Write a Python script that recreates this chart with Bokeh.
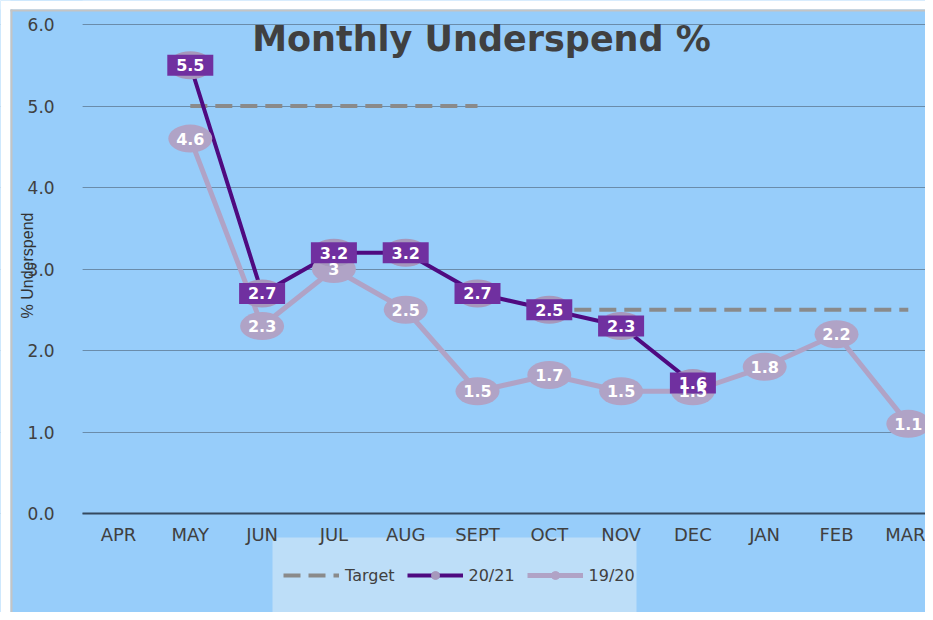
from bokeh.plotting import figure
from bokeh.models import (Range1d, FixedTicker, NumeralTickFormatter, Label,
                          Legend, LegendItem, ColumnDataSource, BoxAnnotation)
from bokeh.core.properties import value
from bokeh.embed import file_html
from bokeh.resources import INLINE

months = ["APR", "MAY", "JUN", "JUL", "AUG", "SEPT", "OCT", "NOV", "DEC", "JAN", "FEB", "MAR"]

# 20/21 series: MAY..DEC
fy2021_idx = [1, 2, 3, 4, 5, 6, 7, 8]
fy2021_vals = [5.5, 2.7, 3.2, 3.2, 2.7, 2.5, 2.3, 1.6]
fy2021_lbls = ["5.5", "2.7", "3.2", "3.2", "2.7", "2.5", "2.3", "1.6"]

# 19/20 series: MAY..MAR
fy1920_idx = [1, 2, 3, 4, 5, 6, 7, 8, 9, 10, 11]
fy1920_vals = [4.6, 2.3, 3.0, 2.5, 1.5, 1.7, 1.5, 1.5, 1.8, 2.2, 1.1]
fy1920_lbls = ["4.6", "2.3", "3", "2.5", "1.5", "1.7", "1.5", "1.5", "1.8", "2.2", "1.1"]

# Target: 5.0 for MAY..SEPT, 2.5 for OCT..MAR
target_a_idx = [1, 2, 3, 4, 5]
target_a_vals = [5.0, 5.0, 5.0, 5.0, 5.0]
target_b_idx = [6, 7, 8, 9, 10, 11]
target_b_vals = [2.5, 2.5, 2.5, 2.5, 2.5, 2.5]

y_ticks = [0, 1, 2, 3, 4, 5, 6]

BG = "#97CDFA"
LEG_BG = "#BDDEF8"
DARK = "#404040"
PURPLE_LINE = "#4F0A80"
PURPLE_BOX = "#7030A0"
LAV = "#B0A3C6"
LAV2 = "#A698BC"
TARGET = "#8A8A8A"

W, H = 925, 612
# layout: category 0 centre at 118px, 71.8 px per category; value 0 at 513px, 81.5 px per unit
X0, XS, Y0, YS = 118.0, 71.8, 513.0, 81.5


def px_x(px):
    return (px - X0) / XS


def px_y(py):
    return (Y0 - py) / YS


p = figure(width=W, height=H, output_backend="svg", toolbar_location=None,
           x_range=Range1d(px_x(0), px_x(W)), y_range=Range1d(px_y(H), px_y(0)),
           min_border=0)
p.background_fill_color = BG
p.border_fill_color = BG
p.outline_line_color = None

# cover grid lines left of the plotting area
p.add_layout(BoxAnnotation(right=-0.5, fill_color=BG, fill_alpha=1,
                           line_color=None, level="underlay"))
# legend panel (below the axis labels)
p.add_layout(BoxAnnotation(left=px_x(272), right=px_x(636), top=px_y(537),
                           bottom=px_y(613), fill_color=LEG_BG, fill_alpha=1,
                           line_color=None, level="underlay"))

# axes
p.xaxis.fixed_location = 0
p.xaxis.bounds = (-0.5, 11.5)
p.xaxis.ticker = FixedTicker(ticks=list(range(len(months))))
p.xaxis.major_label_overrides = {i: m for i, m in enumerate(months)}
p.xaxis.major_label_text_font = "DejaVu Sans"
p.xaxis.major_label_text_font_size = "18px"
p.xaxis.major_label_text_color = DARK
p.xaxis.major_tick_line_color = None
p.xaxis.minor_tick_line_color = None
p.xaxis.axis_line_color = "#34495E"
p.xaxis.axis_line_width = 2
p.xaxis.major_label_standoff = 4

p.yaxis.fixed_location = -0.5
p.yaxis.bounds = (0, 6)
p.yaxis.ticker = FixedTicker(ticks=y_ticks)
p.yaxis.formatter = NumeralTickFormatter(format="0.0")
p.yaxis.major_label_text_font = "DejaVu Sans"
p.yaxis.major_label_text_font_size = "17px"
p.yaxis.major_label_text_color = DARK
p.yaxis.major_tick_line_color = None
p.yaxis.minor_tick_line_color = None
p.yaxis.axis_line_color = None
p.yaxis.major_label_standoff = 22

p.xgrid.grid_line_color = None
p.ygrid.grid_line_color = "#6A8CAA"
p.ygrid.grid_line_width = 1
p.ygrid.ticker = FixedTicker(ticks=y_ticks)

# target lines
t1 = p.line(target_a_idx, target_a_vals, line_color=TARGET, line_width=4, line_dash="17 8")
p.line(target_b_idx, target_b_vals, line_color=TARGET, line_width=4, line_dash="17 8")

# series lines
l1920 = p.line(fy1920_idx, fy1920_vals, line_color=LAV, line_width=5)
l2021 = p.line(fy2021_idx, fy2021_vals, line_color=PURPLE_LINE, line_width=4)

# small markers (used by legend, hidden under big markers)
s1920 = p.scatter(fy1920_idx, fy1920_vals, size=8, color=LAV)
s2021 = p.scatter(fy2021_idx, fy2021_vals, size=8, color=LAV2)

# big ellipse markers
p.ellipse(fy1920_idx, fy1920_vals, width=44, height=28, width_units="screen",
          height_units="screen", fill_color=LAV, line_color=None)
p.ellipse(fy2021_idx, fy2021_vals, width=44, height=28, width_units="screen",
          height_units="screen", fill_color=LAV2, line_color=None)

# 20/21 label boxes
p.rect(fy2021_idx, fy2021_vals, width=46, height=21, width_units="screen",
       height_units="screen", fill_color=PURPLE_BOX, line_color=None)
src21 = ColumnDataSource(dict(x=fy2021_idx, y=fy2021_vals, t=fy2021_lbls))
p.text("x", "y", text="t", source=src21, text_color="white",
       text_font=value("DejaVu Sans"), text_font_style="bold",
       text_font_size="16px", text_align="center", text_baseline="middle")
src20 = ColumnDataSource(dict(x=fy1920_idx, y=fy1920_vals, t=fy1920_lbls))
p.text("x", "y", text="t", source=src20, text_color="white",
       text_font=value("DejaVu Sans"), text_font_style="bold",
       text_font_size="16px", text_align="center", text_baseline="middle")

# title
p.add_layout(Label(x=px_x(481), y=px_y(38),
                   text="Monthly Underspend %", text_font="DejaVu Sans",
                   text_font_style="bold", text_font_size="35px", text_color=DARK,
                   text_align="center", text_baseline="middle"))
# y axis title
p.add_layout(Label(x=px_x(27), y=px_y(265),
                   text="% Underspend", text_font="Liberation Sans",
                   text_font_size="16px", text_color="#333333", angle=1.5708,
                   text_align="center", text_baseline="middle"))

legend = Legend(items=[LegendItem(label="Target", renderers=[t1]),
                       LegendItem(label="20/21", renderers=[l2021, s2021]),
                       LegendItem(label="19/20", renderers=[l1920, s1920])],
                orientation="horizontal", location=(283, H - 585),
                background_fill_alpha=0, border_line_color=None,
                padding=0, spacing=12, glyph_width=56, glyph_height=20,
                label_standoff=6, label_text_font="DejaVu Sans",
                label_text_font_size="16px", label_text_color=DARK, margin=0)
p.add_layout(legend, "center")

# outer white margin with grey border (top and left)
p.add_layout(BoxAnnotation(right=px_x(10), fill_color="white", fill_alpha=1,
                           line_color=None, level="overlay"))
p.add_layout(BoxAnnotation(bottom=px_y(9), fill_color="white", fill_alpha=1,
                           line_color=None, level="overlay"))
p.add_layout(BoxAnnotation(left=px_x(10), right=px_x(12), top=px_y(9),
                           fill_color="#C4C4C4", fill_alpha=1, line_color=None,
                           level="overlay"))
p.add_layout(BoxAnnotation(left=px_x(10), top=px_y(9), bottom=px_y(11),
                           fill_color="#C4C4C4", fill_alpha=1, line_color=None,
                           level="overlay"))

open("out.html", "w").write(file_html(p, INLINE))
